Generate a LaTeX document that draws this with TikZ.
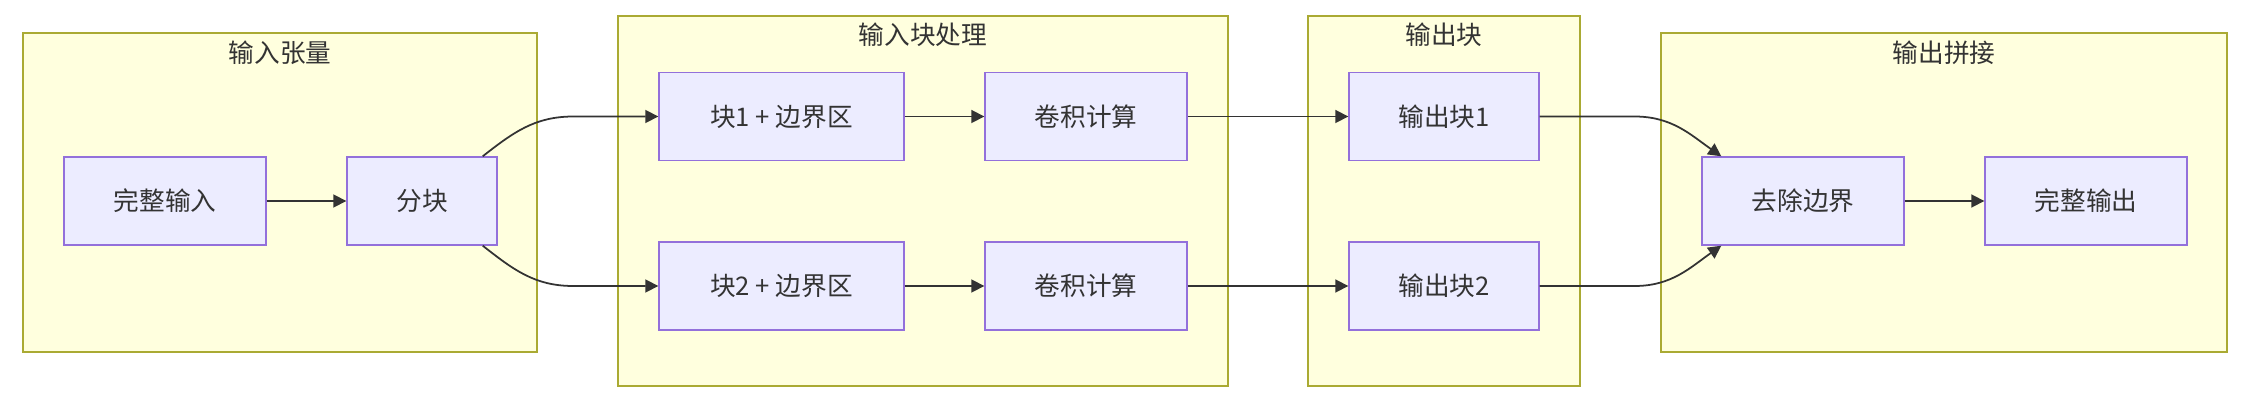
\documentclass[tikz,border=0pt]{standalone}
\usepackage{fontspec}
\setmainfont{Noto Sans CJK SC}
\usetikzlibrary{positioning,arrows.meta,calc}
\definecolor{boxfill}{HTML}{ECECFF}
\definecolor{boxline}{HTML}{9370DB}
\definecolor{grpfill}{HTML}{FFFFDE}
\definecolor{grpline}{HTML}{AAAA33}
\definecolor{inktext}{HTML}{333333}
\tikzset{
  proc/.style={draw=boxline, fill=boxfill, line width=0.8pt, inner sep=0pt,
    minimum height=1.76cm, text=inktext},
  grp/.style={draw=grpline, fill=grpfill, line width=0.8pt, inner sep=0pt},
  grplab/.style={text=inktext, inner sep=0pt},
  flow/.style={-{Triangle[length=2.6mm, width=2.6mm]}, line width=1pt, draw=inktext},
}

\begin{document}
\begin{tikzpicture}[font=\fontsize{14.6pt}{17pt}\selectfont]
    \path[use as bounding box, fill=white] (0,0) rectangle (45,-8);
    % groups
    \node[grp, minimum width=10.28cm, minimum height=6.38cm] (gin) at (5.6,-3.85) {};
    \node[grp, minimum width=12.2cm, minimum height=7.4cm] (gproc) at (18.46,-4.02) {};
    \node[grp, minimum width=5.44cm, minimum height=7.4cm] (gout) at (28.88,-4.02) {};
    \node[grp, minimum width=11.32cm, minimum height=6.38cm] (gjoin) at (38.88,-3.85) {};
    \node[grplab] (lin) at ([yshift=-4mm]gin.north) {输入张量};
    \node[grplab] (lproc) at ([yshift=-3.8mm]gproc.north) {输入块处理};
    \node[grplab] (lout) at ([yshift=-3.8mm]gout.north) {输出块};
    \node[grplab] (ljoin) at ([yshift=-4mm]gjoin.north) {输出拼接};
    % input
    \node[proc, minimum width=4.04cm] (fin) at (3.3,-4.02) {完整输入};
    \node[proc, minimum width=3.0cm] (split) at (8.44,-4.02) {分块};
    % blocks
    \node[proc, minimum width=4.9cm] (b1) at (15.63,-2.33) {块1 + 边界区};
    \node[proc, minimum width=4.04cm] (c1) at (21.72,-2.33) {卷积计算};
    \node[proc, minimum width=4.9cm] (b2) at (15.63,-5.72) {块2 + 边界区};
    \node[proc, minimum width=4.04cm] (c2) at (21.72,-5.72) {卷积计算};
    % outputs
    \node[proc, minimum width=3.8cm] (o1) at (28.88,-2.33) {输出块1};
    \node[proc, minimum width=3.8cm] (o2) at (28.88,-5.72) {输出块2};
    \node[proc, minimum width=4.04cm] (trim) at (36.06,-4.02) {去除边界};
    \node[proc, minimum width=4.04cm] (fout) at (41.72,-4.02) {完整输出};
    % edges
    \draw[flow] (fin) -- (split);
    \draw[flow] ([xshift=-3mm]split.north east) to[out=38,in=180] ([xshift=-1.7cm]b1.west) -- (b1.west);
    \draw[flow] ([xshift=-3mm]split.south east) to[out=-38,in=180] ([xshift=-1.7cm]b2.west) -- (b2.west);
    \draw[flow] (b1) -- (c1);
    \draw[flow] (b2) -- (c2);
    \draw[flow] (c1) -- (o1);
    \draw[flow] (c2) -- (o2);
    \draw[flow] (o1.east) -- ([xshift=1.9cm]o1.east) to[out=0,in=145] ([xshift=4mm]trim.north west);
    \draw[flow] (o2.east) -- ([xshift=1.9cm]o2.east) to[out=0,in=-145] ([xshift=4mm]trim.south west);
    \draw[flow] (trim) -- (fout);
  \end{tikzpicture}
\end{document}
